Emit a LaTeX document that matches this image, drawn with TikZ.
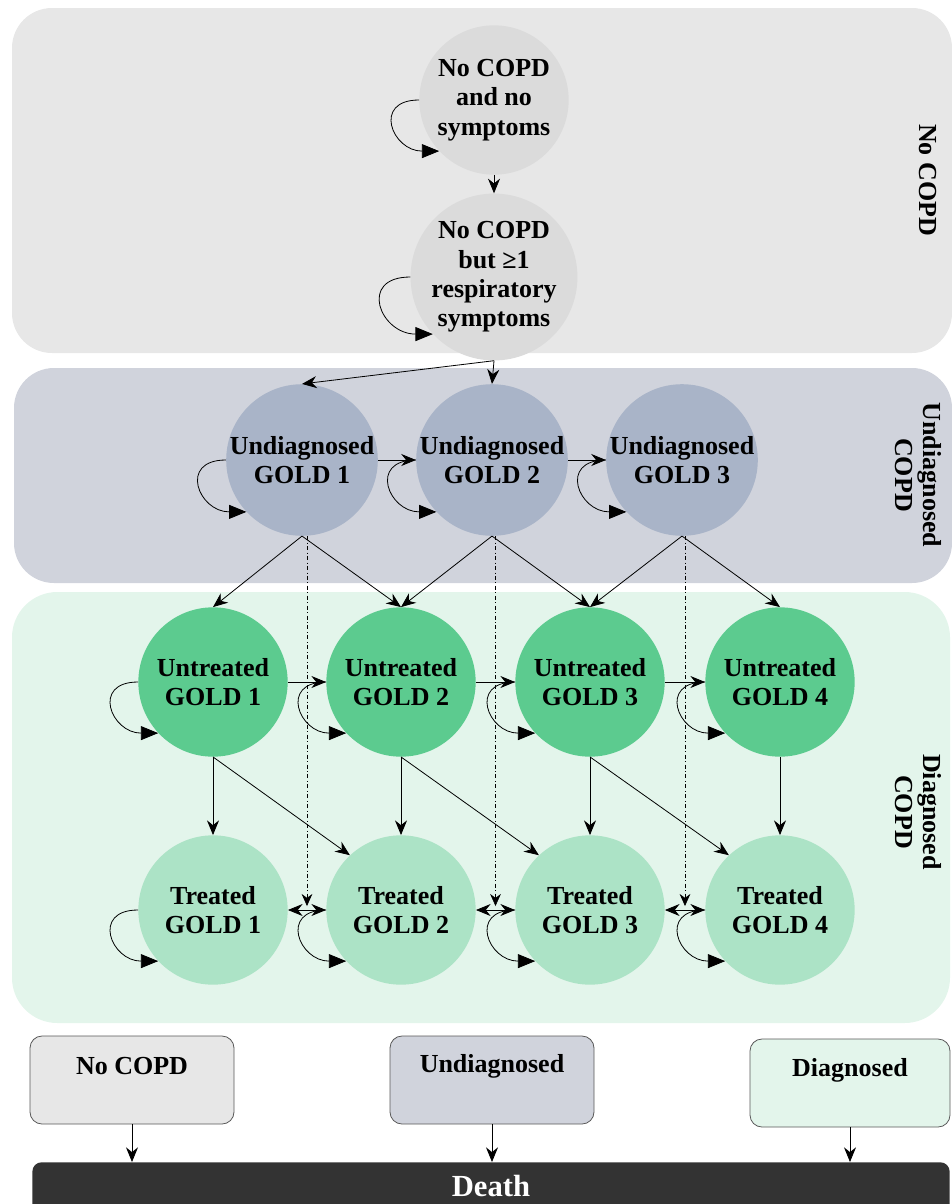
\documentclass[tikz,border=0pt]{standalone}
\usepackage{fontspec}
\setmainfont{Liberation Serif}
\usetikzlibrary{arrows.meta}
\usetikzlibrary{calc}

\definecolor{nocopdband}{HTML}{E7E7E7}
\definecolor{undiagband}{HTML}{D0D3DC}
\definecolor{diagband}{HTML}{E3F5EB}
\definecolor{nocopdfill}{HTML}{DBDBDB}
\definecolor{undiagfill}{HTML}{A9B4C8}
\definecolor{untreatedfill}{HTML}{5CCB8F}
\definecolor{treatedfill}{HTML}{ACE3C6}
\definecolor{deathfill}{HTML}{333333}

\tikzset{
	state/.style = {circle, minimum size = 112pt, inner sep = 0pt, align = center, font = \fontsize{19.5}{22}\selectfont\bfseries},
	flow/.style = {-{Stealth[length = 11pt, width = 9pt]}, line width = 0.6pt},
	twoway/.style = {{Stealth[length = 11pt, width = 9pt]}-{Stealth[length = 11pt, width = 9pt]}, line width = 0.6pt},
	dashflow/.style = {-{Stealth[length = 9pt, width = 8pt]}, line width = 0.45pt, dash dot},
	selfloop/.style = {-{Triangle[length = 13pt, width = 10.5pt]}, line width = 0.6pt, looseness = 2.2},
	bandlabel/.style = {rotate = -90, align = center, font = \fontsize{19.5}{21}\selectfont\bfseries},
	legbox/.style = {draw = black!65, line width = 0.6pt, rounded corners = 9pt, minimum width = 153pt, minimum height = 66pt},
	legtext/.style = {font = \fontsize{19.5}{21}\selectfont\bfseries}
}

\begin{document}
\begin{tikzpicture}[x = 0.75pt, y = -0.75pt]
	\useasboundingbox (0, 0) rectangle (952, 1204);

	% bands
	\fill[nocopdband, rounded corners = 30pt] (12, 8) rectangle (952, 353);
	\fill[undiagband, rounded corners = 30pt] (14, 368) rectangle (952, 583);
	\fill[diagband, rounded corners = 34pt] (12, 592) rectangle (950, 1023);
	\node[bandlabel] (lblnocopd) at (928, 180) {No COPD};
	\node[bandlabel] (lblundiag) at (918, 475) {Undiagnosed\\COPD};
	\node[bandlabel] (lbldiag) at (918, 812) {Diagnosed\\COPD};

	% no COPD states
	\node[state, fill = nocopdfill] (nosym) at (494, 100) {No COPD\\and no\\symptoms};
	\node[state, fill = nocopdfill] (sym) at (494, 277) {No COPD\\but ≥1\\respiratory\\symptoms};

	% undiagnosed states
	\node[state, fill = undiagfill] (u1) at (302, 460) {Undiagnosed\\GOLD 1};
	\node[state, fill = undiagfill] (u2) at (492, 460) {Undiagnosed\\GOLD 2};
	\node[state, fill = undiagfill] (u3) at (682, 460) {Undiagnosed\\GOLD 3};

	% diagnosed states
	\foreach \i/\x in {1/213, 2/401, 3/590, 4/780} {
		\node[state, fill = untreatedfill] (ut\i) at (\x, 682) {Untreated\\GOLD \i};
		\node[state, fill = treatedfill] (t\i) at (\x, 910) {Treated\\GOLD \i};
	}

	% self loops
	\foreach \n in {nosym, sym, u1, u2, u3, ut1, ut2, ut3, ut4, t1, t2, t3, t4}
		\draw[selfloop] (\n.180) to[out = 180, in = 180] (\n.223);

	% transitions
	\draw[flow] (nosym) -- (sym);
	\draw[flow] (sym.south) -- (u1.north);
	\draw[flow] (sym.south) -- (u2.north);
	\draw[flow] (u1) -- (u2);
	\draw[flow] (u2) -- (u3);
	\draw[flow] (u1.south) -- (ut1.north);
	\draw[flow] (u1.south) -- (ut2.north);
	\draw[flow] (u2.south) -- (ut2.north);
	\draw[flow] (u2.south) -- (ut3.north);
	\draw[flow] (u3.south) -- (ut3.north);
	\draw[flow] (u3.south) -- (ut4.north);
	\draw[flow] (ut1) -- (ut2);
	\draw[flow] (ut2) -- (ut3);
	\draw[flow] (ut3) -- (ut4);
	\foreach \i in {1, 2, 3, 4}
		\draw[flow] (ut\i.south) -- (t\i.north);
	\draw[flow] (ut1.south) -- (t2.133);
	\draw[flow] (ut2.south) -- (t3.133);
	\draw[flow] (ut3.south) -- (t4.133);

	% treated switches and direct diagnosis
	\coordinate (m12) at ($(t1.east)!0.5!(t2.west) + (0, -4)$);
	\coordinate (m23) at ($(t2.east)!0.5!(t3.west) + (0, -4)$);
	\coordinate (m34) at ($(t3.east)!0.5!(t4.west) + (0, -4)$);
	\draw[twoway] (t1) -- (t2);
	\draw[twoway] (t2) -- (t3);
	\draw[twoway] (t3) -- (t4);
	\draw[dashflow] (u1.south -| m12) -- (m12);
	\draw[dashflow] (u2.south -| m23) -- (m23);
	\draw[dashflow] (u3.south -| m34) -- (m34);

	% death
	\node[legbox, fill = nocopdband] (lnocopd) at (132, 1080) {};
	\node[legbox, fill = undiagband] (lundiag) at (492, 1080) {};
	\node[legbox, fill = diagband, minimum width = 150pt] (ldiag) at (850, 1083) {};
	\node[legtext] (tnocopd) at (132, 1066) {No COPD};
	\node[legtext] (tundiag) at (492, 1066) {Undiagnosed};
	\node[legtext] (tdiag) at (850, 1070) {Diagnosed};
	\node[fill = deathfill, rounded corners = 7pt, minimum width = 688pt, minimum height = 50pt, anchor = north] (death) at (491, 1162) {};
	\node[text = white, font = \fontsize{23}{25}\selectfont\bfseries] (tdeath) at (491, 1186) {Death};
	\draw[flow] (lnocopd.south) -- (lnocopd.south |- death.north);
	\draw[flow] (lundiag.south) -- (lundiag.south |- death.north);
	\draw[flow] (ldiag.south) -- (ldiag.south |- death.north);
\end{tikzpicture}
\end{document}
